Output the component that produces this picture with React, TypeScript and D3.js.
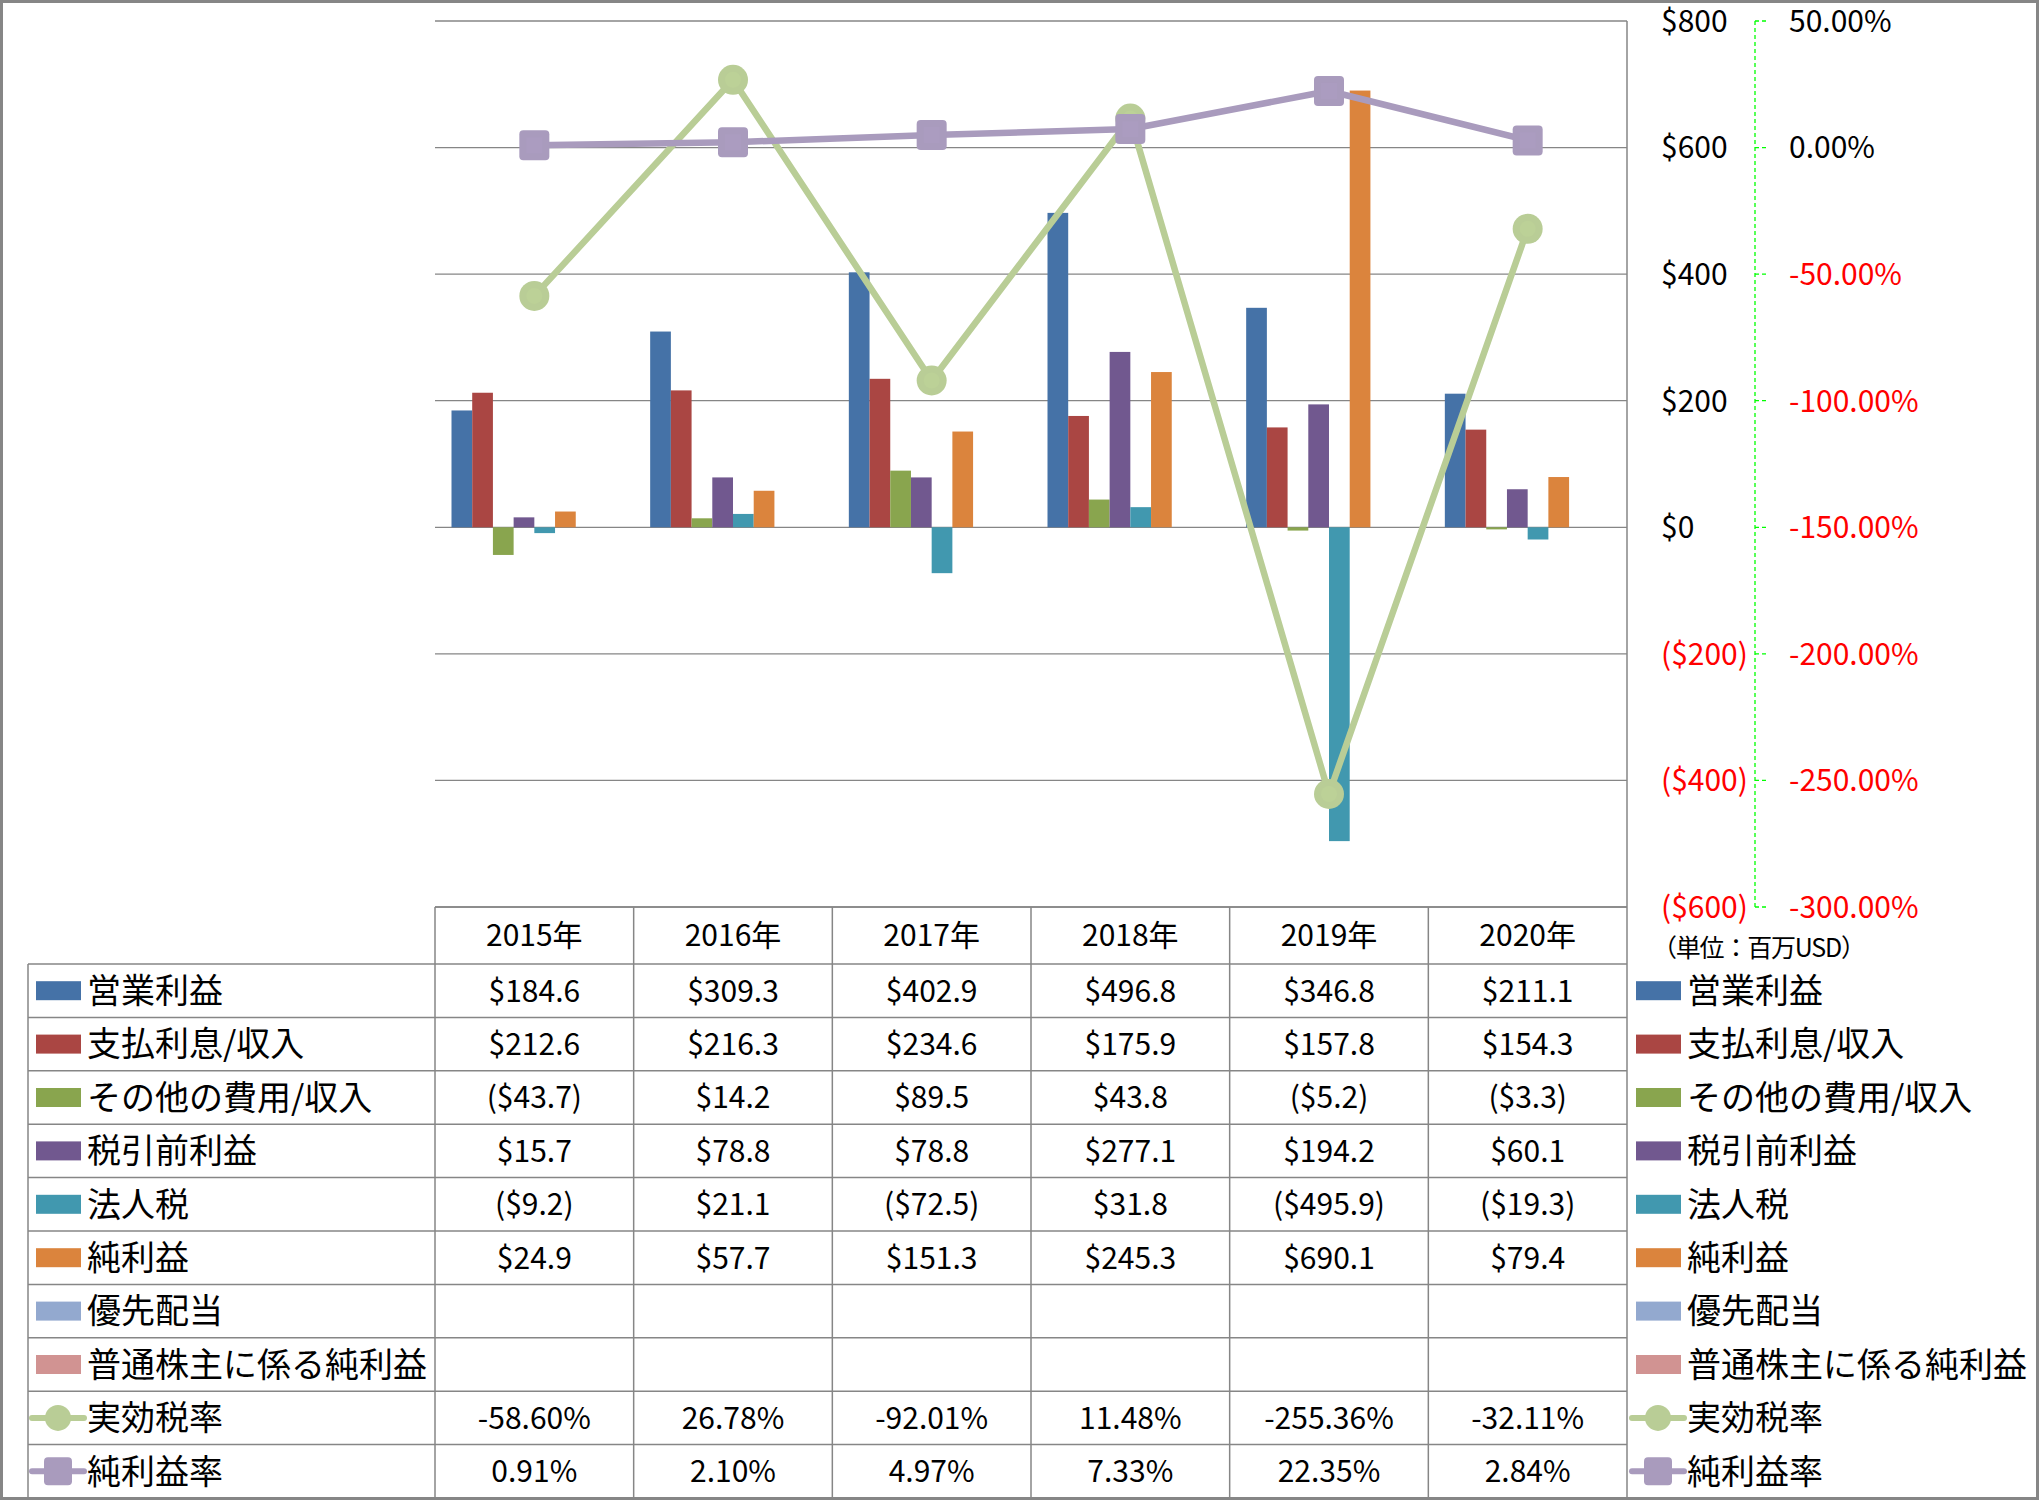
import React from "react";
import * as d3 from "d3";

const years = ["2015年", "2016年", "2017年", "2018年", "2019年", "2020年"];

const barSeriesNames = ["営業利益", "支払利息/収入", "その他の費用/収入", "税引前利益", "法人税", "純利益", "優先配当", "普通株主に係る純利益"];
const barColors = ["#4572A7", "#AA4643", "#89A54E", "#71588F", "#4198AF", "#DB843D", "#93A9CF", "#D19392"];

const operatingIncome = [184.6, 309.3, 402.9, 496.8, 346.8, 211.1];
const interestExpense = [212.6, 216.3, 234.6, 175.9, 157.8, 154.3];
const otherExpense = [-43.7, 14.2, 89.5, 43.8, -5.2, -3.3];
const pretaxIncome = [15.7, 78.8, 78.8, 277.1, 194.2, 60.1];
const incomeTax = [-9.2, 21.1, -72.5, 31.8, -495.9, -19.3];
const netIncome = [24.9, 57.7, 151.3, 245.3, 690.1, 79.4];
const preferredDividends: (number | null)[] = [null, null, null, null, null, null];
const netIncomeCommon: (number | null)[] = [null, null, null, null, null, null];

const effectiveTaxRate = [-58.6, 26.78, -92.01, 11.48, -255.36, -32.11];
const netMargin = [0.91, 2.1, 4.97, 7.33, 22.35, 2.84];

const lineSeriesNames = ["実効税率", "純利益率"];
const lineColors = ["#B9CD96", "#A99BBD"];
const lineInnerColors = ["#BCD197", "#AB9CC0"];

const leftTicks = [800, 600, 400, 200, 0, -200, -400, -600];
const rightTicks = [50, 0, -50, -100, -150, -200, -250, -300];

const barSeries: (number | null)[][] = [
  operatingIncome,
  interestExpense,
  otherExpense,
  pretaxIncome,
  incomeTax,
  netIncome,
  preferredDividends,
  netIncomeCommon,
];

const W = 2039;
const H = 1500;
const plotLeft = 435;
const plotRight = 1627;
const plotTop = 21;
const plotBottom = 907;
const headerBottom = 964;
const rowH = 53.4;
const tableLeft = 28;
const gridColor = "#868686";
const FONT = "'Noto Sans CJK JP', 'Noto Sans', sans-serif";

const fmtMoney = (v: number | null) =>
  v === null ? "" : v < 0 ? `($${Math.abs(v).toFixed(1)})` : `$${v.toFixed(1)}`;
const fmtAxisMoney = (v: number) => (v < 0 ? `($${Math.abs(v)})` : `$${v}`);
const fmtPct = (v: number) => `${v.toFixed(2)}%`;

function LegendKey({ idx, x, cy }: { idx: number; x: number; cy: number }) {
  if (idx < 8) {
    return <rect x={x} y={cy - 9.5} width={45} height={19} fill={barColors[idx]} />;
  }
  const li = idx - 8;
  const c = lineColors[li];
  return (
    <g>
      <line x1={x - 4} x2={x + 48} y1={cy} y2={cy} stroke={c} strokeWidth={6} strokeLinecap="round" />
      {li === 0 ? (
        <circle cx={x + 22} cy={cy} r={13} fill={c} />
      ) : (
        <rect x={x + 8} y={cy - 14} width={28} height={28} rx={4} fill={c} />
      )}
    </g>
  );
}

export default function App() {
  const x = d3.scaleBand<string>().domain(years).range([plotLeft, plotRight]).padding(0);
  const bw = x.bandwidth();
  const xs = d3
    .scaleBand<number>()
    .domain(d3.range(8))
    .range([16.5, bw - 16.5])
    .padding(0);
  const yL = d3.scaleLinear().domain([-600, 800]).range([plotBottom, plotTop]);
  const yR = d3.scaleLinear().domain([-300, 50]).range([plotBottom, plotTop]);

  const lineGen = d3
    .line<number>()
    .x((_, i) => (x(years[i]) as number) + bw / 2)
    .y((d) => yR(d));

  const lineData = [effectiveTaxRate, netMargin];
  const allRowNames = [...barSeriesNames, ...lineSeriesNames];
  const rowCenter = (i: number) => headerBottom + rowH * (i + 0.5);
  const rowText = (ri: number, ci: number) => {
    if (ri < 8) return fmtMoney(barSeries[ri][ci]);
    return fmtPct(lineData[ri - 8][ci]);
  };
  const tableBottom = headerBottom + rowH * 10;

  return (
    <div style={{ position: "absolute", left: 0, top: 0 }}>
      <svg width={W} height={H} style={{ display: "block", background: "#fff" }} fontFamily={FONT}>
        <rect x={0} y={0} width={W} height={H} fill="#fff" />
        {/* gridlines */}
        {leftTicks.map((t) => (
          <line key={t} x1={plotLeft} x2={plotRight} y1={yL(t)} y2={yL(t)} stroke={gridColor} strokeWidth={1.3} />
        ))}
        {/* bars */}
        {barSeries.map((s, si) =>
          s.map((v, ci) =>
            v === null ? null : (
              <rect
                key={`${si}-${ci}`}
                x={(x(years[ci]) as number) + (xs(si) as number)}
                y={yL(Math.max(0, v))}
                width={xs.bandwidth()}
                height={Math.abs(yL(v) - yL(0))}
                fill={barColors[si]}
              />
            )
          )
        )}
        {/* lines */}
        {lineData.map((d, li) => (
          <g key={li}>
            <path d={lineGen(d) as string} fill="none" stroke={lineColors[li]} strokeWidth={6.5} strokeLinejoin="round" />
            {d.map((v, i) => {
              const cx = (x(years[i]) as number) + bw / 2;
              const cy = yR(v);
              return li === 0 ? (
                <g key={i}>
                  <circle cx={cx} cy={cy} r={15} fill={lineColors[li]} />
                  <circle cx={cx} cy={cy} r={8} fill={lineInnerColors[li]} />
                </g>
              ) : (
                <g key={i}>
                  <rect x={cx - 15} y={cy - 15} width={30} height={30} rx={4} fill={lineColors[li]} />
                  <rect x={cx - 8} y={cy - 8} width={16} height={16} fill={lineInnerColors[li]} />
                </g>
              );
            })}
          </g>
        ))}
        {/* left axis labels */}
        {leftTicks.map((t) => (
          <text
            key={t}
            x={1661}
            y={yL(t)}
            dy="0.36em"
            fontSize={30}
            fill={t < 0 ? "#FF0000" : "#000"}
          >
            {fmtAxisMoney(t)}
          </text>
        ))}
        {/* right axis */}
        <line x1={1755} x2={1755} y1={plotTop} y2={plotBottom} stroke="#00FF00" strokeWidth={1.3} strokeDasharray="4,3" />
        {rightTicks.map((t) => (
          <g key={t}>
            <line x1={1755} x2={1767} y1={yR(t)} y2={yR(t)} stroke="#00FF00" strokeWidth={1.3} strokeDasharray="4,3" />
            <text x={1789} y={yR(t)} dy="0.36em" fontSize={30} fill={t < 0 ? "#FF0000" : "#000"}>
              {`${t.toFixed(2)}%`}
            </text>
          </g>
        ))}
        <text x={1652} y={948} dy="0.36em" fontSize={25} fill="#000" textLength={214} lengthAdjust="spacing">
          （単位：百万USD）
        </text>
        {/* table */}
        <line x1={plotLeft} x2={plotRight} y1={plotBottom} y2={plotBottom} stroke={gridColor} strokeWidth={1.5} />
        {d3.range(11).map((i) => (
          <line
            key={`h${i}`}
            x1={tableLeft}
            x2={plotRight}
            y1={headerBottom + rowH * i}
            y2={headerBottom + rowH * i}
            stroke={gridColor}
            strokeWidth={1.5}
          />
        ))}
        <line x1={tableLeft} x2={tableLeft} y1={headerBottom} y2={tableBottom} stroke={gridColor} strokeWidth={1.5} />
        {d3.range(7).map((i) => {
          const xx = plotLeft + bw * i;
          return (
            <line key={`v${i}`} x1={xx} x2={xx} y1={plotBottom} y2={tableBottom} stroke={gridColor} strokeWidth={1.5} />
          );
        })}
        <line x1={plotRight} x2={plotRight} y1={plotTop} y2={plotBottom} stroke={gridColor} strokeWidth={1.5} />
        {years.map((yr) => (
          <text
            key={yr}
            x={(x(yr) as number) + bw / 2}
            y={(plotBottom + headerBottom) / 2}
            dy="0.36em"
            textAnchor="middle"
            fontSize={30}
          >
            {yr}
          </text>
        ))}
        {allRowNames.map((name, ri) => (
          <g key={name}>
            <LegendKey idx={ri} x={36} cy={rowCenter(ri)} />
            <text x={87} y={rowCenter(ri)} dy="0.36em" fontSize={34}>
              {name}
            </text>
            {years.map((yr, ci) => (
              <text
                key={yr}
                x={(x(yr) as number) + bw / 2}
                y={rowCenter(ri)}
                dy="0.36em"
                textAnchor="middle"
                fontSize={30}
              >
                {rowText(ri, ci)}
              </text>
            ))}
            <LegendKey idx={ri} x={1636} cy={rowCenter(ri)} />
            <text x={1687} y={rowCenter(ri)} dy="0.36em" fontSize={34}>
              {name}
            </text>
          </g>
        ))}
        {/* outer frame */}
        <rect x={1.5} y={1.5} width={W - 3} height={H - 3} fill="none" stroke={gridColor} strokeWidth={3} />
      </svg>
    </div>
  );
}
